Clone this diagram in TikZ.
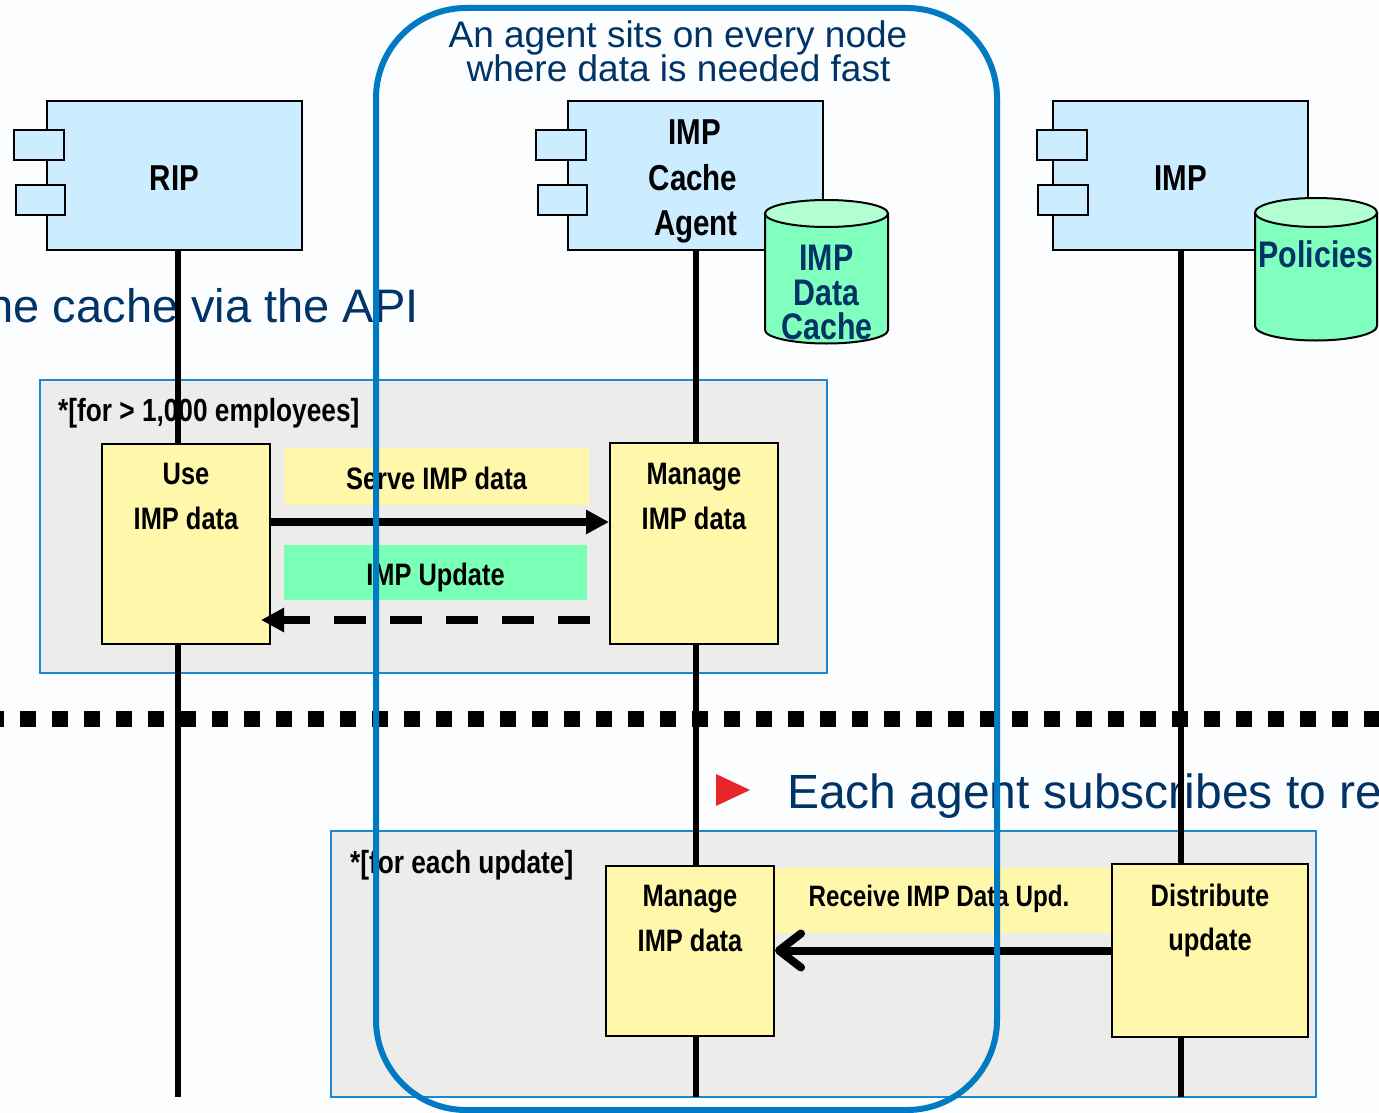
\documentclass[tikz,border=0pt]{standalone}
\usepackage{fontspec}
\setmainfont{Liberation Sans}
\newfontfamily\narrowsf[FakeStretch=0.82]{Liberation Sans}
\usetikzlibrary{arrows.meta,fit,calc}

\definecolor{pagebg}{RGB}{252,253,255}
\definecolor{compfill}{RGB}{204,236,255}
\definecolor{actyellow}{RGB}{255,247,170}
\definecolor{msggreen}{RGB}{122,255,182}
\definecolor{cylbody}{RGB}{128,255,190}
\definecolor{cyltop}{RGB}{178,255,210}
\definecolor{framegray}{RGB}{236,237,235}
\definecolor{framecol}{RGB}{30,136,206}
\definecolor{agentblue}{RGB}{0,122,194}
\definecolor{navy}{RGB}{0,51,102}
\definecolor{bulletred}{RGB}{232,38,42}

\begin{document}
\begin{tikzpicture}[x=1pt, y=-1pt,
  comp/.style={draw=black, line width=2.5pt, fill=compfill, inner sep=0pt},
  port/.style={draw=black, line width=2pt, fill=compfill, inner sep=0pt},
  act/.style={draw=black, line width=2pt, fill=actyellow, inner sep=0pt},
  loopframe/.style={draw=framecol, line width=2pt, fill=framegray, inner sep=0pt},
  msgbg/.style={fill=#1, inner sep=0pt},
  lifeline/.style={line width=5.5pt},
  msgline/.style={line width=8pt},
  boldlbl/.style={font=\narrowsf\bfseries\fontsize{31}{36}\selectfont, inner sep=0pt},
  guardlbl/.style={font=\narrowsf\bfseries\fontsize{32}{36}\selectfont, inner sep=0pt},
  complbl/.style={font=\narrowsf\bfseries\fontsize{36}{40}\selectfont, inner sep=0pt},
  cyllbl/.style={font=\narrowsf\bfseries\fontsize{37}{40}\selectfont, text=navy, inner sep=0pt},
  bigtext/.style={font=\fontsize{48}{52}\selectfont, text=navy, inner sep=0pt},
  notetext/.style={font=\fontsize{37}{40}\selectfont, text=navy, inner sep=0pt},
  cylside/.style={draw=black, line width=2pt, fill=cylbody},
  cylcap/.style={draw=black, line width=2pt, fill=cyltop}
]
\useasboundingbox[fill=pagebg] (0,0) rectangle (1379,1113);

% ---- combined fragments (loops) ----
\node[loopframe, fit={(40,380) (827,673)}] (loopA) {};
\node[loopframe, fit={(331,831) (1316,1097)}] (loopB) {};
\node[guardlbl, anchor=base west] (guardA) at (58,421) {*[for > 1,000 employees]};
\node[guardlbl, anchor=base west] (guardB) at (350,873) {*[for each update]};

% ---- running text ----
\node[bigtext, anchor=base east, font=\fontsize{47}{52}\selectfont] (apitext) at (419,322) {the cache via the API};
\node[bigtext, anchor=base west] (subtext) at (787,808) {Each agent subscribes to re};
\fill[bulletred] (716,774) -- (750,790) -- (716,806) -- cycle;

% ---- components ----
\node[comp, fit={(47,101) (302,250)}] (rip) {};
\node[comp, fit={(568,101) (823,250)}] (agent) {};
\node[comp, fit={(1053,101) (1308,250)}] (imp) {};

% ---- lifelines ----
\coordinate (ripEnd) at (178,1097);
\coordinate (agentEnd) at (696,1097);
\coordinate (impEnd) at (1181,1097);
\draw[lifeline] (ripEnd |- rip.south) -- (ripEnd);
\draw[lifeline] (agentEnd |- agent.south) -- (agentEnd);
\draw[lifeline] (impEnd |- imp.south) -- (impEnd);

% ---- phase separator ----
\draw[line width=16pt, dash pattern=on 16pt off 16pt] (-12,719) -- (1395,719);

% ---- component ports and names ----
\node[port, fit={(14,130) (64,160)}] (ripP1) {};
\node[port, fit={(16,185) (65,215)}] (ripP2) {};
\node[port, fit={(536,130) (586,160)}] (agentP1) {};
\node[port, fit={(538,185) (587,215)}] (agentP2) {};
\node[port, fit={(1037,130) (1087,160)}] (impP1) {};
\node[port, fit={(1038,185) (1088,215)}] (impP2) {};
\node[complbl, anchor=base] (ripName) at (174.5,190) {RIP};
\node[complbl, anchor=base] (agentName1) at (695,145) {IMP};
\node[complbl, anchor=base] (agentName2) at (693,190) {Cache};
\node[complbl, anchor=base] (agentName3) at (696,235) {Agent};
\node[complbl, anchor=base] (impName) at (1180.5,190) {IMP};

% ---- data stores ----
\filldraw[cylside] (765,213.5) -- (765,330) arc[start angle=180, end angle=360, x radius=61.5pt, y radius=13.5pt] -- (888,213.5) -- cycle;
\filldraw[cylcap] (826.5,213.5) ellipse[x radius=61.5pt, y radius=13.5pt];
\node[cyllbl, anchor=base] (cache1) at (826.5,270) {IMP};
\node[cyllbl, anchor=base] (cache2) at (826.5,305) {Data};
\node[cyllbl, anchor=base] (cache3) at (827,339) {Cache};

\filldraw[cylside] (1255,212.5) -- (1255,326) arc[start angle=180, end angle=360, x radius=61pt, y radius=14.5pt] -- (1377,212.5) -- cycle;
\filldraw[cylcap] (1316,212.5) ellipse[x radius=61pt, y radius=14.5pt];
\node[cyllbl, anchor=base] (policies) at (1316,267) {Policies};

% ---- first loop: request / update ----
\node[msgbg=actyellow, fit={(284,448) (589,505)}] (serveBg) {};
\node[msgbg=msggreen, fit={(284,545) (587,600)}] (updBg) {};
\node[boldlbl, anchor=base] (serveTxt) at (436.5,489) {Serve IMP data};
\node[boldlbl, anchor=base] (updTxt) at (435.5,585) {IMP Update};

\node[act, fit={(102,444) (270,644)}] (use) {};
\node[act, fit={(610,443) (778,644)}] (mgA) {};
\node[boldlbl, anchor=base] (useT1) at (186,484) {Use};
\node[boldlbl, anchor=base] (useT2) at (186,529) {IMP data};
\node[boldlbl, anchor=base] (mgAT1) at (694,484) {Manage};
\node[boldlbl, anchor=base] (mgAT2) at (694,529) {IMP data};

\coordinate (callY) at (0,522);
\coordinate (retY) at (590,620);
\draw[msgline, -{Triangle[length=23pt, width=23pt]}] (use.east |- callY) -- (mgA.west |- callY);
\draw[msgline, dash pattern=on 32pt off 24pt, -{Triangle[length=23pt, width=23pt]}] (retY) -- ($(use.east |- retY)+(-10,0)$);

% ---- second loop: distribution ----
\node[msgbg=actyellow, fit={(774,868) (1112,933)}] (recvBg) {};
\node[boldlbl, anchor=base, font=\narrowsf\bfseries\fontsize{29.5}{34}\selectfont] (recvTxt) at (939,906) {Receive IMP Data Upd.};
\node[act, fit={(606,866) (774,1036)}] (mgB) {};
\node[act, fit={(1112,864) (1308,1037)}] (dist) {};
\node[boldlbl, anchor=base] (mgBT1) at (690,906) {Manage};
\node[boldlbl, anchor=base] (mgBT2) at (690,951) {IMP data};
\node[boldlbl, anchor=base] (distT1) at (1210,906) {Distribute};
\node[boldlbl, anchor=base] (distT2) at (1210,950) {update};
\draw[msgline, -{Straight Barb[length=22pt, width=34pt, round]}] (dist.west) -- (mgB.east |- dist.west);

% ---- agent deployment zone ----
\node[draw=agentblue, line width=6pt, rounded corners=90pt, inner sep=0pt, fit={(376,8) (997,1110)}] (zone) {};
\node[notetext, anchor=base] (note1) at (678,48) {An agent sits on every node};
\node[notetext, anchor=base] (note2) at (678.5,82) {where data is needed fast};
\end{tikzpicture}
\end{document}
